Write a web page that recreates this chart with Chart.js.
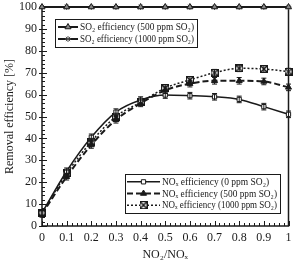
<!DOCTYPE html>
<html>
<head>
<meta charset="utf-8">
<script src="https://cdn.jsdelivr.net/npm/chart.js@4/dist/chart.umd.min.js"></script>
<style>
    html, body { margin: 0; padding: 0; background: #fff; }
    canvas { display: block; }
</style>
</head>
<body>
<canvas id="myChart" width="294" height="262"></canvas>
<script>
// NO2/NOx ratio on the x axis
const ratio = [0, 0.1, 0.2, 0.3, 0.4, 0.5, 0.6, 0.7, 0.8, 0.9, 1]
const xTicks = [0, 0.1, 0.2, 0.3, 0.4, 0.5, 0.6, 0.7, 0.8, 0.9, 1]
const yTicks = [0, 10, 20, 30, 40, 50, 60, 70, 80, 90, 100]

const so2Eff500 = [100, 100, 100, 100, 100, 100, 100, 100, 100, 100, 100]
const so2Eff1000 = [100, 100, 100, 100, 100, 100, 100, 100, 100, 100, 100]
const noxEff0 = [6, 25, 40.5, 52, 57.5, 59.8, 59.5, 59, 57.8, 54.5, 51]
const noxEff500 = [5.5, 22.5, 37, 48.5, 56, 62, 65, 66.3, 66.3, 66, 63.3]
const noxEff1000 = [6, 24, 38.5, 50, 56.5, 63, 66.7, 70, 72, 71.7, 70.5]
const noxErr = 1.5

const ink = '#1a1a1a'
const serif = "'Liberation Serif', 'DejaVu Serif', serif"

// square with a cross inside, used for the 1000 ppm NOx series
function boxCross() {
    const c = document.createElement('canvas')
    c.width = 8
    c.height = 8
    const g = c.getContext('2d')
    g.fillStyle = '#fff'
    g.fillRect(0, 0, 8, 8)
    g.strokeStyle = ink
    g.lineWidth = 1
    g.strokeRect(0.5, 0.5, 7, 7)
    g.lineWidth = 1.6
    g.beginPath()
    g.moveTo(1, 1); g.lineTo(7, 7)
    g.moveTo(7, 1); g.lineTo(1, 7)
    g.stroke()
    return c
}
const crossMark = boxCross()

const pts = arr => arr.map((v, i) => ({x: ratio[i], y: v}))

const datasets = [{
    label: 'SO₂ efficiency (500 ppm SO₂)',
    data: pts(so2Eff500),
    borderColor: ink, borderWidth: 2,
    pointStyle: 'triangle', pointRadius: 3.5,
    pointBackgroundColor: '#888', pointBorderColor: ink, pointBorderWidth: 1
}, {
    label: 'SO₂ efficiency (1000 ppm SO₂)',
    data: pts(so2Eff1000),
    borderColor: ink, borderWidth: 2,
    pointStyle: 'star', pointRadius: 3,
    pointBackgroundColor: ink, pointBorderColor: '#555', pointBorderWidth: 1
}, {
    label: 'NOₓ efficiency (0 ppm SO₂)',
    data: pts(noxEff0), err: true,
    borderColor: ink, borderWidth: 1.5,
    pointStyle: 'rect', pointRadius: 3,
    pointBackgroundColor: '#fff', pointBorderColor: ink, pointBorderWidth: 1
}, {
    label: 'NOₓ efficiency (500 ppm SO₂)',
    data: pts(noxEff500), err: true,
    borderColor: ink, borderWidth: 2, borderDash: [6, 3],
    pointStyle: 'triangle', pointRadius: 3.5,
    pointBackgroundColor: ink, pointBorderColor: ink, pointBorderWidth: 1
}, {
    label: 'NOₓ efficiency (1000 ppm SO₂)',
    data: pts(noxEff1000), err: true,
    borderColor: ink, borderWidth: 1.5, borderDash: [2, 2],
    pointStyle: crossMark, pointRadius: 4,
    pointBackgroundColor: '#fff', pointBorderColor: ink
}]
datasets.forEach(ds => { ds.clip = false })

const framePlugin = {
    id: 'frame',
    beforeDatasetsDraw(chart) {
        const {ctx, chartArea: a, scales: {x, y}} = chart
        ctx.save()
        ctx.strokeStyle = ink
        ctx.lineWidth = 1.5
        ctx.strokeRect(a.left, a.top, a.right - a.left, a.bottom - a.top)
        ctx.lineWidth = 1
        ctx.beginPath()
        for (let v = 0; v <= 100.001; v += 2) {
            const py = Math.round(y.getPixelForValue(v)) + 0.5
            const major = Math.abs(v % 10) < 0.01
            ctx.moveTo(a.left - (major ? 3 : 0), py)
            ctx.lineTo(a.left + (major ? 5 : 3), py)
        }
        for (let v = 0; v <= 1.0001; v += 0.02) {
            const px = Math.round(x.getPixelForValue(v)) + 0.5
            const major = Math.abs(Math.round(v * 50) % 5) === 0
            ctx.moveTo(px, a.bottom)
            ctx.lineTo(px, a.bottom - (major ? 5 : 3))
        }
        ctx.stroke()
        ctx.restore()
    },
    afterDatasetsDraw(chart) {
        const {ctx} = chart
        ctx.save()
        ctx.strokeStyle = ink
        ctx.lineWidth = 1
        chart.data.datasets.forEach((ds, i) => {
            if (!ds.err) return
            const ys = chart.scales.y
            chart.getDatasetMeta(i).data.forEach((p, j) => {
                const v = ds.data[j].y
                const t = ys.getPixelForValue(v + noxErr)
                const b = ys.getPixelForValue(v - noxErr)
                ctx.beginPath()
                ctx.moveTo(p.x, t); ctx.lineTo(p.x, b)
                ctx.moveTo(p.x - 2.5, t); ctx.lineTo(p.x + 2.5, t)
                ctx.moveTo(p.x - 2.5, b); ctx.lineTo(p.x + 2.5, b)
                ctx.stroke()
            })
        })
        ctx.restore()
    }
}

// two legend boxes inside the plot, like the original figure
const legendPlugin = {
    id: 'boxLegends',
    afterDraw(chart) {
        const {ctx} = chart
        const groups = [
            {box: [55, 19, 142, 28], line: [3, 23], items: [0, 1]},
            {box: [125, 174, 155, 39], line: [2, 35], items: [2, 3, 4]}
        ]
        ctx.save()
        groups.forEach(g => {
            const [bx, by, bw, bh] = g.box
            const [l0, l1] = g.line
            ctx.fillStyle = '#fff'
            ctx.fillRect(bx, by, bw, bh)
            ctx.strokeStyle = ink
            ctx.lineWidth = 1
            ctx.strokeRect(bx + 0.5, by + 0.5, bw, bh)
            const rowH = (bh - 4) / g.items.length
            g.items.forEach((di, k) => {
                const ds = chart.data.datasets[di]
                const cy = by + 2 + rowH * (k + 0.5)
                ctx.save()
                ctx.strokeStyle = ds.borderColor
                ctx.lineWidth = ds.borderWidth
                ctx.setLineDash(ds.borderDash || [])
                ctx.beginPath()
                ctx.moveTo(bx + l0, cy)
                ctx.lineTo(bx + l1, cy)
                ctx.stroke()
                ctx.restore()
                ctx.save()
                ctx.fillStyle = ds.pointBackgroundColor
                ctx.strokeStyle = ds.pointBorderColor
                ctx.lineWidth = ds.pointBorderWidth || 1
                Chart.helpers.drawPoint(ctx, {
                    pointStyle: ds.pointStyle,
                    radius: ds.pointRadius,
                    rotation: 0,
                    borderWidth: ds.pointBorderWidth || 1
                }, bx + (l0 + l1) / 2, cy)
                ctx.restore()
                ctx.fillStyle = ink
                ctx.font = '9.5px ' + serif
                ctx.textBaseline = 'middle'
                ctx.fillText(ds.label, bx + l1 + 2, cy + 0.5, bw - l1 - 5)
            })
        })
        ctx.restore()
    }
}

let myChart = new Chart(document.getElementById('myChart'), {
    type: 'line',
    data: {datasets: datasets},
    options: {
        responsive: false,
        animation: false,
        devicePixelRatio: 1,
        layout: {padding: {left: 0, right: 5, top: 7, bottom: 0}},
        elements: {line: {cubicInterpolationMode: 'monotone'}},
        plugins: {legend: {display: false}, tooltip: {enabled: false}},
        scales: {
            x: {
                type: 'linear', min: 0, max: 1,
                afterBuildTicks: s => { s.ticks = xTicks.map(v => ({value: v})) },
                afterFit: s => {
                    s.height = 36
                    s.paddingLeft = 0
                    s.paddingRight = 0
                },
                grid: {display: false, drawTicks: false}, border: {display: false},
                ticks: {
                    color: ink, padding: 5, maxRotation: 0,
                    font: {family: serif, size: 12},
                    callback: v => String(Number(v.toFixed(1)))
                },
                title: {
                    display: true, text: 'NO₂/NOₓ', color: ink,
                    font: {family: serif, size: 12}, padding: {top: 0, bottom: 0}
                }
            },
            y: {
                min: 0, max: 100,
                afterBuildTicks: s => { s.ticks = yTicks.map(v => ({value: v})) },
                afterFit: s => {
                    s.width = 42
                    s.paddingTop = 0
                    s.paddingBottom = 0
                },
                grid: {display: false, drawTicks: false}, border: {display: false},
                ticks: {color: ink, padding: 5, font: {family: serif, size: 12}},
                title: {
                    display: true, text: 'Removal efficiency [%]', color: ink,
                    font: {family: serif, size: 12}, padding: {top: 3, bottom: 0}
                }
            }
        }
    },
    plugins: [framePlugin, legendPlugin]
})
</script>
</body>
</html>
